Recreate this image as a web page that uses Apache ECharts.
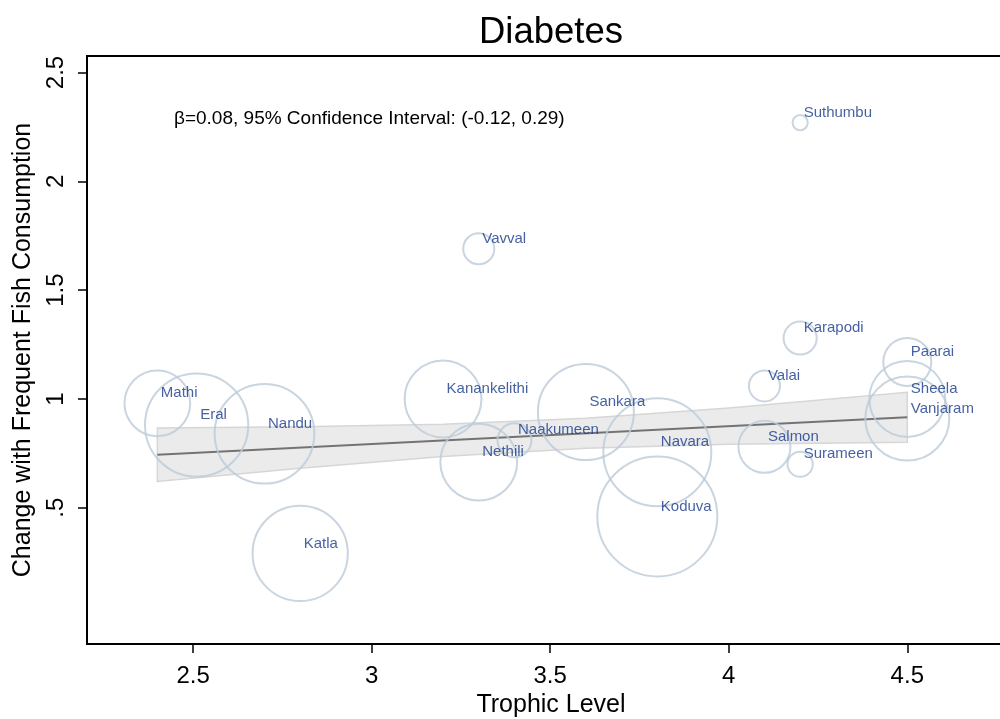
<!DOCTYPE html>
<html>
<head>
<meta charset="utf-8">
<title>Diabetes</title>
<script src="https://cdn.jsdelivr.net/npm/echarts@6/dist/echarts.min.js"></script>
<style>
  html, body { margin: 0; padding: 0; background: #fff; }
  #chart { width: 1000px; height: 719px; }
</style>
</head>
<body>
<div id="chart"></div>
<script>
// fish, trophic level, change in diabetes with frequent consumption, bubble weight
var fishNames = ['Mathi', 'Eral', 'Nandu', 'Katla', 'Kanankelithi', 'Nethili', 'Naakumeen',
  'Sankara', 'Navara', 'Koduva', 'Karapodi', 'Valai', 'Paarai', 'Sheela', 'Vanjaram',
  'Salmon', 'Surameen', 'Vavval', 'Suthumbu'];
var trophicLevel = [2.4, 2.51, 2.7, 2.8, 3.2, 3.3, 3.4, 3.6, 3.8, 3.8, 4.2, 4.1, 4.5, 4.5, 4.5,
  4.1, 4.2, 3.3, 4.2];
var changeValue = [0.98, 0.88, 0.84, 0.29, 1.0, 0.71, 0.81, 0.94, 0.755, 0.46, 1.28, 1.06, 1.17,
  1.0, 0.91, 0.78, 0.70, 1.69, 2.27];
var fishWeight = [30, 74, 69, 63, 41, 41, 8, 64, 81, 100, 7.6, 6.7, 16, 40, 49, 18.8, 4.4, 6.7, 1.6];

// linear fit and its 95% CI
var fitX = [2.4, 4.5];
var fitY = [0.744, 0.916];
var bandX = [2.4, 2.8, 3.2, 3.6, 4.0, 4.5];
var bandLow = [0.621, 0.682, 0.736, 0.773, 0.792, 0.801];
var bandHigh = [0.867, 0.872, 0.884, 0.911, 0.958, 1.031];

var xTicks = [2.5, 3, 3.5, 4, 4.5];
var yTicks = [0.5, 1, 1.5, 2, 2.5];

var FONT = 'Liberation Sans, Arial, Helvetica, sans-serif';
var X_MIN = 2.203, X_MAX = 4.768;

var chart = echarts.init(document.getElementById('chart'));

var bubbleData = fishNames.map(function (n, i) {
  return { name: n, value: [trophicLevel[i], changeValue[i]], w: fishWeight[i] };
});
var fitData = fitX.map(function (x, i) { return [x, fitY[i]]; });
var bandData = bandX.map(function (x, i) { return [x, bandLow[i], bandHigh[i]]; });

chart.setOption({
  backgroundColor: '#fff',
  animation: false,
  textStyle: { fontFamily: FONT },
  title: [
    {
      text: 'Diabetes', left: 546, top: 9, textAlign: 'center',
      textStyle: { fontSize: 36.5, fontWeight: 'normal', color: '#000', fontFamily: FONT }
    },
    {
      text: 'β=0.08, 95% Confidence Interval: (-0.12, 0.29)', left: 169, top: 104,
      textStyle: { fontSize: 19, fontWeight: 'normal', color: '#000', fontFamily: FONT }
    }
  ],
  // plot frame: top line comes from the grid border, right side is pushed just off the canvas
  grid: {
    left: 87, right: -3, top: 56, bottom: 75, containLabel: false, outerBoundsMode: 'none',
    show: true, borderColor: '#000', borderWidth: 2, backgroundColor: 'transparent'
  },
  xAxis: [
    {
      type: 'value', min: X_MIN, max: X_MAX,
      name: 'Trophic Level', nameLocation: 'middle', nameGap: 45,
      nameTextStyle: { fontSize: 25, color: '#000', fontFamily: FONT, padding: [0, 0, 0, 12] },
      axisLine: { onZero: false, lineStyle: { color: '#000', width: 2 } },
      axisTick: { show: false },
      axisLabel: { customValues: xTicks, fontSize: 24, color: '#000', margin: 20, fontFamily: FONT },
      splitLine: { show: false }
    },
    {
      // tick marks only
      type: 'value', min: X_MIN, max: X_MAX, position: 'bottom', offset: 0,
      axisLine: { show: false, onZero: false },
      axisTick: { show: true, customValues: xTicks, length: 9, lineStyle: { color: '#000', width: 1.5 } },
      axisLabel: { show: false },
      splitLine: { show: false }
    }
  ],
  yAxis: {
    type: 'value', min: -0.126, max: 2.576,
    name: 'Change with Frequent Fish Consumption', nameLocation: 'middle', nameGap: 48,
    nameTextStyle: { fontSize: 25, color: '#000', fontFamily: FONT },
    axisLine: { onZero: false, lineStyle: { color: '#000', width: 2 } },
    axisTick: { customValues: yTicks, length: 9, lineStyle: { color: '#000', width: 1.5 } },
    axisLabel: {
      customValues: yTicks, fontSize: 24, color: '#000', rotate: 90, margin: 19, fontFamily: FONT,
      formatter: function (v) { return v === 0.5 ? '.5' : String(v); }
    },
    splitLine: { show: false }
  },
  series: [
    {
      type: 'custom', z: 1, silent: true,
      data: bandData,
      encode: { x: 0, y: [1, 2] },
      renderItem: function (params, api) {
        if (params.dataIndex !== 0) return null;
        var pts = [];
        for (var i = 0; i < bandX.length; i++) pts.push(api.coord([bandX[i], bandHigh[i]]));
        for (var j = bandX.length - 1; j >= 0; j--) pts.push(api.coord([bandX[j], bandLow[j]]));
        return {
          type: 'polygon',
          shape: { points: pts },
          style: { fill: '#ebebeb', stroke: '#d6d6d6', lineWidth: 1.5 }
        };
      }
    },
    {
      type: 'line', z: 2, data: fitData, symbol: 'none', silent: true,
      lineStyle: { color: '#737373', width: 2 }
    },
    {
      type: 'scatter', z: 3, data: bubbleData, silent: true,
      symbolSize: function (v, p) { return 12 * Math.sqrt(p.data.w); },
      itemStyle: { color: 'rgba(0,0,0,0)', borderColor: '#bccad8', borderWidth: 2 }
    },
    {
      type: 'scatter', z: 4, data: bubbleData, silent: true, symbolSize: 1,
      itemStyle: { color: 'rgba(0,0,0,0)' },
      label: {
        show: true, position: 'right', distance: 3, offset: [0, -10],
        formatter: '{b}', fontSize: 15, color: '#163a8a', fontFamily: FONT
      }
    }
  ]
});
</script>
</body>
</html>
